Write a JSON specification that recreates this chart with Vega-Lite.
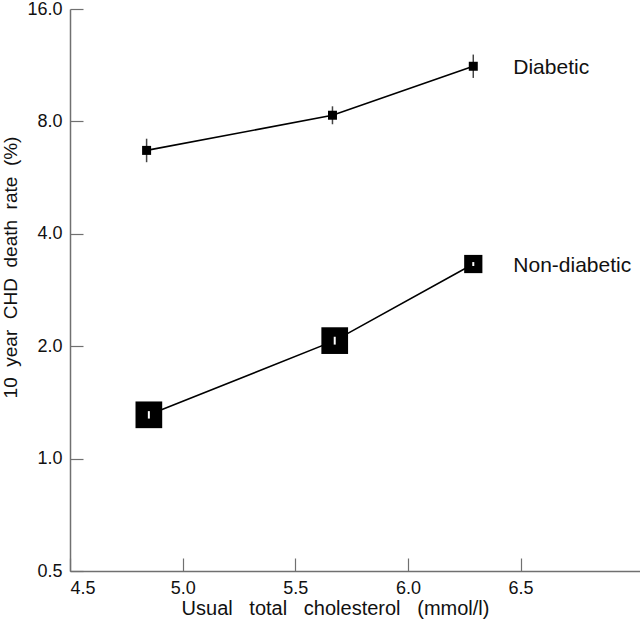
{
  "$schema": "https://vega.github.io/schema/vega-lite/v6.json",
  "autosize": "none",
  "width": 570,
  "height": 562,
  "padding": {"left": 70, "top": 9, "right": 0, "bottom": 56},
  "background": "white",
  "config": {
    "view": {"stroke": null},
    "font": "Liberation Sans",
    "axis": {
      "grid": false,
      "domainColor": "#707070",
      "domainWidth": 1.5,
      "tickColor": "#707070",
      "tickWidth": 1.2,
      "tickSize": -13,
      "labelFont": "Liberation Sans",
      "labelFontSize": 18,
      "labelColor": "#111",
      "titleFont": "Liberation Sans",
      "titleFontSize": 19,
      "titleFontWeight": "normal",
      "titleColor": "#111"
    }
  },
  "data": {
    "values": [
      {"group": "Diabetic", "chol": 4.84, "rate": 6.69, "lo": 6.22, "hi": 7.19, "weight": 1.0},
      {"group": "Diabetic", "chol": 5.665, "rate": 8.31, "lo": 7.86, "hi": 8.78, "weight": 1.0},
      {"group": "Diabetic", "chol": 6.29, "rate": 11.24, "lo": 10.46, "hi": 12.08, "weight": 1.0},
      {"group": "Non-diabetic", "chol": 4.85, "rate": 1.31, "lo": 1.28, "hi": 1.34, "weight": 8.8},
      {"group": "Non-diabetic", "chol": 5.675, "rate": 2.07, "lo": 2.02, "hi": 2.12, "weight": 8.8},
      {"group": "Non-diabetic", "chol": 6.29, "rate": 3.32, "lo": 3.28, "hi": 3.36, "weight": 4.1}
    ]
  },
  "encoding": {
    "x": {
      "field": "chol", "type": "quantitative",
      "scale": {"domain": [4.5, 7.03], "nice": false, "zero": false},
      "axis": {
        "values": [4.5, 5.0, 5.5, 6.0, 6.5],
        "format": ".1f",
        "labelPadding": 21,
        "title": "Usual\u00a0\u00a0\u00a0total\u00a0\u00a0\u00a0cholesterol\u00a0\u00a0\u00a0(mmol/l)",
        "titleFontSize": 20,
        "titleX": 265,
        "titleY": 27,
        "titleBaseline": "top"
      }
    },
    "y": {
      "field": "rate", "type": "quantitative",
      "scale": {"type": "log", "base": 2, "domain": [0.5, 16], "nice": false},
      "axis": {
        "values": [0.5, 1, 2, 4, 8, 16],
        "format": ".1f",
        "labelPadding": 21,
        "title": "10\u00a0\u00a0year\u00a0\u00a0CHD\u00a0\u00a0death\u00a0\u00a0rate\u00a0\u00a0(%)",
        "titleX": -60,
        "titleY": 258,
        "titleAngle": -90,
        "titleAlign": "center",
        "titleBaseline": "middle"
      }
    }
  },
  "layer": [
    {
      "mark": {"type": "line", "color": "black", "strokeWidth": 1.6},
      "encoding": {"detail": {"field": "group"}}
    },
    {
      "transform": [{"filter": "datum.group === 'Diabetic'"}],
      "mark": {"type": "rule", "color": "#444", "strokeWidth": 1.5},
      "encoding": {"y": {"field": "lo", "type": "quantitative"}, "y2": {"field": "hi"}}
    },
    {
      "mark": {"type": "point", "shape": "square", "filled": true, "color": "black", "opacity": 1},
      "encoding": {
        "size": {"field": "weight", "type": "quantitative", "scale": {"type": "linear", "domain": [0, 8.8], "range": [0, 713]}, "legend": null}
      }
    },
    {
      "transform": [{"filter": "datum.group === 'Non-diabetic'"}],
      "mark": {"type": "rule", "color": "white", "strokeWidth": 2},
      "encoding": {"y": {"field": "lo", "type": "quantitative"}, "y2": {"field": "hi"}}
    },
    {
      "transform": [{"filter": "datum.chol > 6.2"}],
      "mark": {"type": "text", "align": "left", "baseline": "middle", "dx": 40, "dy": 2, "fontSize": 21, "font": "Liberation Sans", "color": "#111"},
      "encoding": {"text": {"field": "group"}}
    }
  ]
}
